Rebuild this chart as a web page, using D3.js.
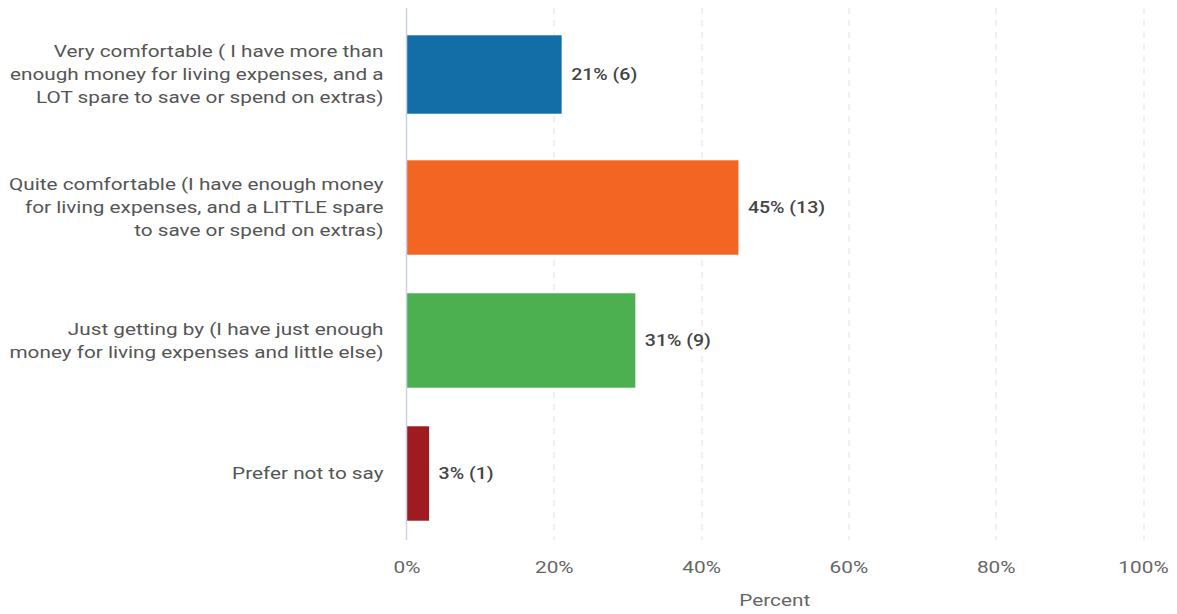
<!DOCTYPE html>
<html>
<head>
<meta charset="utf-8">
<script src="https://cdn.jsdelivr.net/npm/d3@7/dist/d3.min.js"></script>
<style>
  html, body { margin: 0; padding: 0; background: #fff; }
  svg { display: block; font-family: Roboto, "Noto Sans", sans-serif; }
</style>
</head>
<body>
<svg id="chart" width="1177" height="614"></svg>
<script>
// Survey answers: how comfortable respondents feel about their finances
const categories = [
  ["Very comfortable ( I have more than", "enough money for living expenses, and a", "LOT spare to save or spend on extras)"],
  ["Quite comfortable (I have enough money", "for living expenses, and a LITTLE spare", "to save or spend on extras)"],
  ["Just getting by (I have just enough", "money for living expenses and little else)"],
  ["Prefer not to say"]
];
const percents = [21, 45, 31, 3];
const counts = [6, 13, 9, 1];
const colors = ["#136ea8", "#f26522", "#4caf50", "#a01b1f"];
const xTicks = [0, 20, 40, 60, 80, 100];
const axisTitle = "Percent";

// text is drawn slightly widened horizontally
const TEXT_STRETCH = 1.22;

const svg = d3.select("#chart");
const margin = { top: 8, right: 34, bottom: 74, left: 406.5 };
const W = 1177, H = 614;
const innerW = W - margin.left - margin.right;
const innerH = H - margin.top - margin.bottom;

const x = d3.scaleLinear().domain([0, 100]).range([0, innerW]);
const y = d3.scaleBand()
  .domain(d3.range(categories.length))
  .range([0, innerH])
  .paddingInner(0.29)
  .paddingOuter(0.145);

const g = svg.append("g").attr("transform", `translate(${margin.left},${margin.top})`);

// dashed vertical gridlines
g.append("g")
  .selectAll("line")
  .data(xTicks.filter(t => t > 0))
  .join("line")
  .attr("x1", d => Math.round(x(d)) + 0.5)
  .attr("x2", d => Math.round(x(d)) + 0.5)
  .attr("y1", 0)
  .attr("y2", innerH)
  .attr("stroke", "#e0e0e0")
  .attr("stroke-width", 1)
  .attr("stroke-dasharray", "6,6");

// x axis tick labels
const xAxis = d3.axisBottom(x).tickValues(xTicks).tickFormat(d => d + "%").tickSize(0).tickPadding(22);
const xg = g.append("g").attr("transform", `translate(0,${innerH})`).call(xAxis);
xg.select(".domain").remove();
xg.selectAll("text")
  .attr("fill", "#666")
  .attr("transform", "scale(1.3,1)")
  .style("font-size", "16px")
  .style("font-family", "Roboto, sans-serif");

// axis title
g.append("text")
  .attr("transform", `translate(${innerW / 2},${innerH + 66}) scale(${TEXT_STRETCH},1)`)
  .attr("text-anchor", "middle")
  .attr("fill", "#666")
  .style("font-size", "17px")
  .text(axisTitle);

// bars
g.append("g")
  .selectAll("rect")
  .data(percents)
  .join("rect")
  .attr("x", 0.5)
  .attr("y", (d, i) => y(i) + (i === 0 ? 8 : 0))
  .attr("height", (d, i) => y.bandwidth() - (i === 0 ? 16 : 0))
  .attr("width", d => x(d))
  .attr("fill", (d, i) => colors[i]);

// value labels
g.append("g")
  .selectAll("text")
  .data(percents)
  .join("text")
  .attr("transform", (d, i) => `translate(${x(d) + 10},${y(i) + y.bandwidth() / 2}) scale(1.15,1)`)
  .attr("dy", "0.35em")
  .attr("fill", "#444")
  .style("font-size", "17px")
  .style("font-weight", "500")
  .text((d, i) => `${d}% (${counts[i]})`);

// category labels (wrapped lines, right aligned)
const lineH = 23;
const cat = g.append("g")
  .selectAll("text")
  .data(categories)
  .join("text")
  .attr("text-anchor", "end")
  .attr("fill", "#555")
  .style("font-size", "17px")
  .attr("transform", (d, i) => `translate(-23,${y(i) + y.bandwidth() / 2}) scale(${TEXT_STRETCH},1)`);
cat.selectAll("tspan")
  .data(d => d.map((line, k) => ({ line, k, n: d.length })))
  .join("tspan")
  .attr("x", 0)
  .attr("y", d => (d.k - (d.n - 1) / 2) * lineH)
  .attr("dy", "0.35em")
  .text(d => d.line);

// zero baseline
g.append("line")
  .attr("x1", 0).attr("x2", 0)
  .attr("y1", 0).attr("y2", innerH)
  .attr("stroke", "#c9d3e6")
  .attr("stroke-width", 1.5);
</script>
</body>
</html>
